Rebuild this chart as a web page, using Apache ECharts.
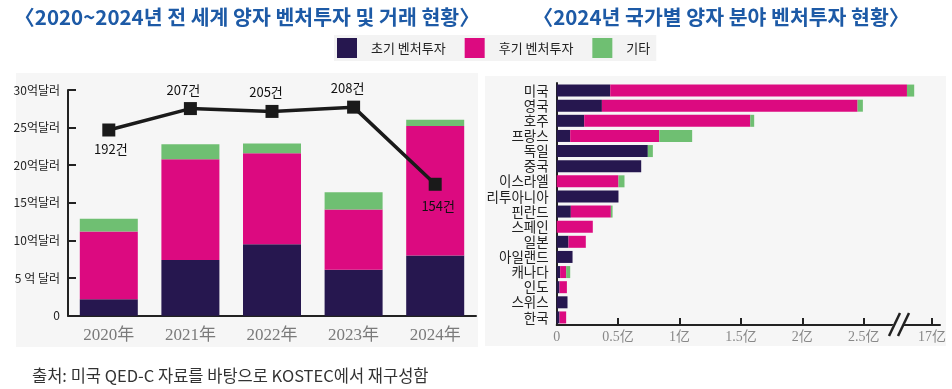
<!DOCTYPE html>
<html><head><meta charset="utf-8">
<script src="https://cdn.jsdelivr.net/npm/echarts@6/dist/echarts.min.js"></script>
<style>html,body{margin:0;padding:0;background:#fff}#c{width:952px;height:389px}</style>
</head><body><div id="c"></div>
<script>
// ---- data ----
const years = ['2020年','2021年','2022年','2023年','2024年'];
const earlyWorld = [2.2, 7.4, 9.5, 6.1, 8.0];
const lateWorld  = [9.0, 13.4, 12.1, 8.0, 17.2];
const otherWorld = [1.7, 2.0, 1.3, 2.3, 0.85];
const deals      = [192, 207, 205, 208, 154];
const leftYLabels = ['0','5 억 달러','10억달러','15억달러','20억달러','25억달러','30억달러'];

const countries = ['미국','영국','호주','프랑스','독일','중국','이스라엘','리투아니아','핀란드','스페인','일본','아일랜드','캐나다','인도','스위스','한국'];
const earlyCountry = [0.436, 0.368, 0.224, 0.110, 0.742, 0.688, 0, 0.503, 0.115, 0, 0.096, 0.129, 0.028, 0.023, 0.088, 0.023];
const lateCountry  = [2.416, 2.082, 1.352, 0.725, 0, 0, 0.503, 0, 0.326, 0.294, 0.141, 0, 0.049, 0.060, 0, 0.054];
const otherCountry = [0.059, 0.043, 0.032, 0.268, 0.041, 0, 0.049, 0, 0.014, 0, 0, 0, 0.033, 0, 0, 0];
const rightTickPos    = [0, 0.5, 1, 1.5, 2, 2.5, 3.056];
const rightTickLabels = ['0','0.5亿','1亿','1.5亿','2亿','2.5亿','17亿'];

const legendNames = ['초기 벤처투자','후기 벤처투자','기타'];

// ---- styles ----
const C_DARK = '#26174f', C_PINK = '#dc0a80', C_GREEN = '#6fbf72';
const SANS = '"Noto Sans CJK KR","Noto Sans",sans-serif';
const SERIF = '"Liberation Serif","DejaVu Serif","Noto Sans CJK SC",serif';
const dealLabelPos = ['bottom','top','top','top','bottom'];
const dealLabelOff = [[2,0],[-7,0],[-6,0],[-6,0],[3,3]];

const chart = echarts.init(document.getElementById('c'), null, {renderer:'canvas'});
const option = {
  backgroundColor: '#ffffff',
  animation: false,
  title: [
    {text: '〈2020~2024년 전 세계 양자 벤처투자 및 거래 현황〉', left: 242, top: 2, textAlign: 'center',
     textStyle: {fontFamily: SANS, fontSize: 20.5, fontWeight: 'bold', color: '#1d5aa6'}},
    {text: '〈2024년 국가별 양자 분야 벤처투자 현황〉', left: 716, top: 2, textAlign: 'center',
     textStyle: {fontFamily: SANS, fontSize: 20.5, fontWeight: 'bold', color: '#1d5aa6'}}
  ],
  legend: {
    data: legendNames, left: 334, top: 35, itemWidth: 20, itemHeight: 20, itemGap: 19,
    backgroundColor: '#f3f3f3', padding: [3, 6, 3, 3],
    textStyle: {fontFamily: SANS, fontSize: 13, color: '#222', padding: [0,0,0,9]},
    icon: 'rect', selectedMode: false
  },
  graphic: [
    {type: 'rect', z: -10, shape: {x: 16, y: 73, width: 462, height: 274}, style: {fill: '#f6f6f6'}},
    {type: 'rect', z: -10, shape: {x: 485, y: 76, width: 461, height: 270}, style: {fill: '#f6f6f6'}},
    {type: 'polygon', z: 100, shape: {points: [[891,328],[896,320],[907,320],[902,328]]}, style: {fill: '#f6f6f6'}},
    {type: 'line', z: 101, shape: {x1: 889, y1: 336, x2: 900, y2: 313}, style: {stroke: '#222', lineWidth: 2.5}},
    {type: 'line', z: 101, shape: {x1: 898, y1: 336, x2: 909, y2: 313}, style: {stroke: '#222', lineWidth: 2.5}},
    {type: 'text', left: 32, top: 367, style: {text: '출처: 미국 QED-C 자료를 바탕으로 KOSTEC에서 재구성함',
      font: '16.5px "Noto Sans CJK KR", sans-serif', fill: '#333'}}
  ],
  grid: [
    {left: 68, top: 90, width: 408, height: 225.7},
    {left: 556.7, top: 83, right: 12, bottom: 64}
  ],
  xAxis: [
    {type: 'category', gridIndex: 0, data: years, boundaryGap: true,
     axisLine: {lineStyle: {color: '#222', width: 2}},
     axisTick: {inside: true, length: 6, lineStyle: {color: '#222', width: 2}},
     axisLabel: {fontFamily: SERIF, fontSize: 17, color: '#7a7a7a', margin: 11}},
    {type: 'value', gridIndex: 1, min: 0, max: 3.121,
     splitLine: {show: false},
     axisLine: {show: true, lineStyle: {color: '#222', width: 2}},
     axisTick: {show: true, inside: true, length: 7, customValues: rightTickPos, lineStyle: {color: '#222', width: 2}},
     axisLabel: {customValues: rightTickPos, fontFamily: SERIF, fontSize: 14, color: '#888', margin: 5,
       formatter: v => { const i = rightTickPos.indexOf(v); return i >= 0 ? rightTickLabels[i] : ''; }}}
  ],
  yAxis: [
    {type: 'value', gridIndex: 0, min: 0, max: 30, interval: 5,
     splitLine: {show: false},
     axisLine: {show: true, lineStyle: {color: '#222', width: 2}},
     axisTick: {show: true, inside: true, length: 8, lineStyle: {color: '#222', width: 2}},
     axisLabel: {fontFamily: SANS, fontSize: 12, color: '#222', margin: 8,
       formatter: v => leftYLabels[Math.round(v / 5)]}},
    {type: 'value', gridIndex: 0, min: 62, max: 220, show: false, splitLine: {show: false}},
    {type: 'category', gridIndex: 1, data: countries, inverse: true,
     axisLine: {show: true, lineStyle: {color: '#222', width: 2}},
     axisTick: {show: false},
     axisLabel: {interval: 0, fontFamily: SANS, fontSize: 13.5, color: '#222', margin: 8, lineHeight: 14}}
  ],
  series: [
    {name: legendNames[0], type: 'bar', xAxisIndex: 0, yAxisIndex: 0, stack: 'w', barWidth: 58, data: earlyWorld, itemStyle: {color: C_DARK}},
    {name: legendNames[1], type: 'bar', xAxisIndex: 0, yAxisIndex: 0, stack: 'w', barWidth: 58, data: lateWorld, itemStyle: {color: C_PINK}},
    {name: legendNames[2], type: 'bar', xAxisIndex: 0, yAxisIndex: 0, stack: 'w', barWidth: 58, data: otherWorld, itemStyle: {color: C_GREEN}},
    {name: '거래 건수', type: 'line', xAxisIndex: 0, yAxisIndex: 1, z: 5,
     data: deals.map((v, i) => ({value: v, label: {position: dealLabelPos[i], offset: dealLabelOff[i]}})),
     symbol: 'rect', symbolSize: 13, lineStyle: {color: '#1a1a1a', width: 3.5}, itemStyle: {color: '#1a1a1a'},
     label: {show: true, formatter: p => p.value + '건', fontFamily: SANS, fontSize: 13, color: '#111', distance: 6}},
    {name: legendNames[0], type: 'bar', xAxisIndex: 1, yAxisIndex: 2, stack: 'c', barWidth: 12, data: earlyCountry, itemStyle: {color: C_DARK}},
    {name: legendNames[1], type: 'bar', xAxisIndex: 1, yAxisIndex: 2, stack: 'c', barWidth: 12, data: lateCountry, itemStyle: {color: C_PINK}},
    {name: legendNames[2], type: 'bar', xAxisIndex: 1, yAxisIndex: 2, stack: 'c', barWidth: 12, data: otherCountry, itemStyle: {color: C_GREEN}}
  ]
};
chart.setOption(option);
</script>
</body></html>
